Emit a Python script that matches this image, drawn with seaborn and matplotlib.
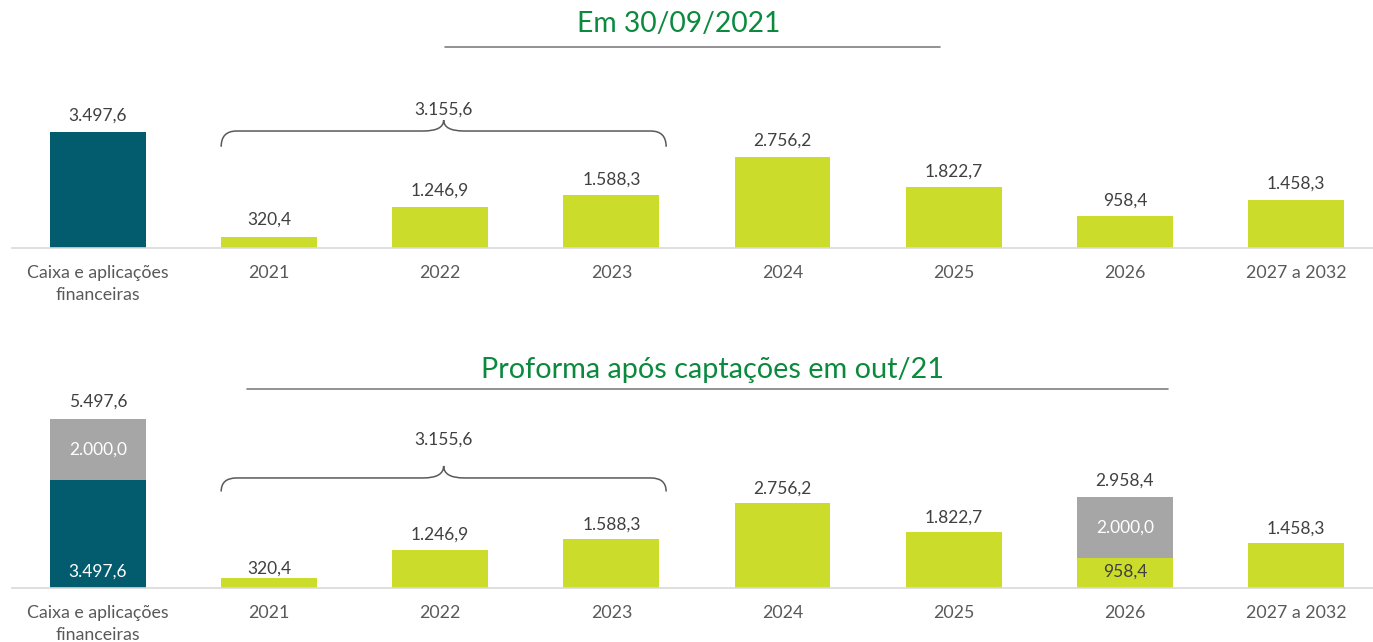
import matplotlib
matplotlib.use("Agg")
import matplotlib.pyplot as plt
from matplotlib.path import Path
from matplotlib.patches import PathPatch
from matplotlib.lines import Line2D
import seaborn as sns
import pandas as pd

# Chart data
categories = ["Caixa e aplicações\nfinanceiras", "2021", "2022", "2023",
              "2024", "2025", "2026", "2027 a 2032"]
amortizacao = [3497.6, 320.4, 1246.9, 1588.3, 2756.2, 1822.7, 958.4, 1458.3]
captacoes = [2000.0, 0.0, 0.0, 0.0, 0.0, 0.0, 2000.0, 0.0]
brace_total = 3155.6
titles = ["Em 30/09/2021", "Proforma após captações em out/21"]

TEAL = "#035b6e"
LIME = "#cbdc2a"
GRAY = "#a6a6a6"
GREEN = "#0b8a3e"
TXT = "#404040"
BAR_W = 0.56

sns.set_theme(style="white")
plt.rcParams["font.family"] = ["Lato", "DejaVu Sans"]


def fmt(v):
    return f"{v:,.1f}".replace(",", "X").replace(".", ",").replace("X", ".")


def brace(ax, x0, x1, y_end, y_flat, y_tip, rx=0.09, rt=0.12):
    xm = (x0 + x1) / 2
    verts = [(x0, y_end), (x0, y_flat), (x0 + rx, y_flat),
             (xm - rt, y_flat), (xm, y_flat), (xm, y_tip),
             (xm, y_flat), (xm + rt, y_flat),
             (x1 - rx, y_flat), (x1, y_flat), (x1, y_end)]
    codes = [Path.MOVETO, Path.CURVE3, Path.CURVE3,
             Path.LINETO, Path.CURVE3, Path.CURVE3,
             Path.CURVE3, Path.CURVE3,
             Path.LINETO, Path.CURVE3, Path.CURVE3]
    ax.add_patch(PathPatch(Path(verts, codes), fill=False, ec="#595959", lw=1.1,
                           clip_on=False))


df = pd.DataFrame({"cat": categories, "base": amortizacao, "extra": captacoes})
df["total"] = df["base"] + df["extra"]
palette = [TEAL] + [LIME] * (len(categories) - 1)

fig = plt.figure(figsize=(13.73, 6.42), dpi=100)
ax1 = fig.add_axes([0.009, 0.6137, 0.991, 0.2327])
ax2 = fig.add_axes([0.009, 0.0841, 0.991, 0.288])

# top panel
sns.barplot(data=df, x="cat", y="base", hue="cat", palette=palette, order=categories,
            width=BAR_W, saturation=1, linewidth=0, legend=False, ax=ax1)
ax1.set_ylim(0, 4500)
for i, v in enumerate(amortizacao):
    ax1.annotate(fmt(v), (i, v), xytext=(0, 12.5 if i == 1 else 11.5),
                 textcoords="offset points",
                 ha="center", va="center", fontsize=12.5, color=TXT)

# bottom panel: totals in gray, base drawn on top
sns.barplot(data=df, x="cat", y="total", order=categories, color=GRAY,
            width=BAR_W, saturation=1, linewidth=0, ax=ax2)
sns.barplot(data=df, x="cat", y="base", hue="cat", palette=palette, order=categories,
            width=BAR_W, saturation=1, linewidth=0, legend=False, ax=ax2)
ax2.set_ylim(0, 6000)
for i, (b, e) in enumerate(zip(amortizacao, captacoes)):
    if e > 0:
        ax2.annotate(fmt(b + e), (i, b + e), xytext=(0, 12), textcoords="offset points",
                     ha="center", va="center", fontsize=12.5, color=TXT)
        ax2.text(i, b + e / 2, fmt(e), ha="center", va="center", fontsize=12.5,
                 color="white")
        ax2.annotate(fmt(b), (i, 0), xytext=(0, 11.5), textcoords="offset points",
                     ha="center", va="center", fontsize=12.5,
                     color="white" if i == 0 else TXT)
    else:
        ax2.annotate(fmt(b), (i, b), xytext=(0, 7 if i == 1 else 10.5),
                     textcoords="offset points",
                     ha="center", va="center", fontsize=12.5, color=TXT)

for ax in (ax1, ax2):
    ax.set_xlim(-0.5, 7.45)
    ax.set_xlabel("")
    ax.set_ylabel("")
    ax.set_yticks([])
    for s in ("left", "right", "top"):
        ax.spines[s].set_visible(False)
    ax.spines["bottom"].set_color("#d9d9d9")
    ax.spines["bottom"].set_linewidth(1.2)
    ax.tick_params(axis="x", length=0, pad=12, labelsize=12.8, labelcolor="#595959")
    for lbl in ax.get_xticklabels():
        lbl.set_linespacing(1.45)

# braces over 2021-2023
x0 = 1 - BAR_W / 2
x1 = 3 + BAR_W / 2 + 0.04
brace(ax1, x0, x1, 3050, 3524, 3855)
ax1.text((x0 + x1) / 2, 4156, fmt(brace_total), ha="center", va="center",
         fontsize=12.5, color=TXT)
brace(ax2, x0, x1, 3130, 3571, 3961)
ax2.text((x0 + x1) / 2, 4805, fmt(brace_total), ha="center", va="center",
         fontsize=12.5, color=TXT)

# titles with underline
fig.text(0.4945, 1 - 24 / 642, titles[0], ha="center", va="center", fontsize=20.3,
         color=GREEN)
fig.add_artist(Line2D([445 / 1373, 940 / 1373], [1 - 47 / 642] * 2, color="#7f7f7f", lw=1.2))
fig.text(0.519, 1 - 370 / 642, titles[1], ha="center", va="center", fontsize=20.8,
         color=GREEN)
fig.add_artist(Line2D([247 / 1373, 1168 / 1373], [1 - 389 / 642] * 2, color="#7f7f7f", lw=1.2))

fig.savefig("out.png", dpi=100, facecolor="white")
